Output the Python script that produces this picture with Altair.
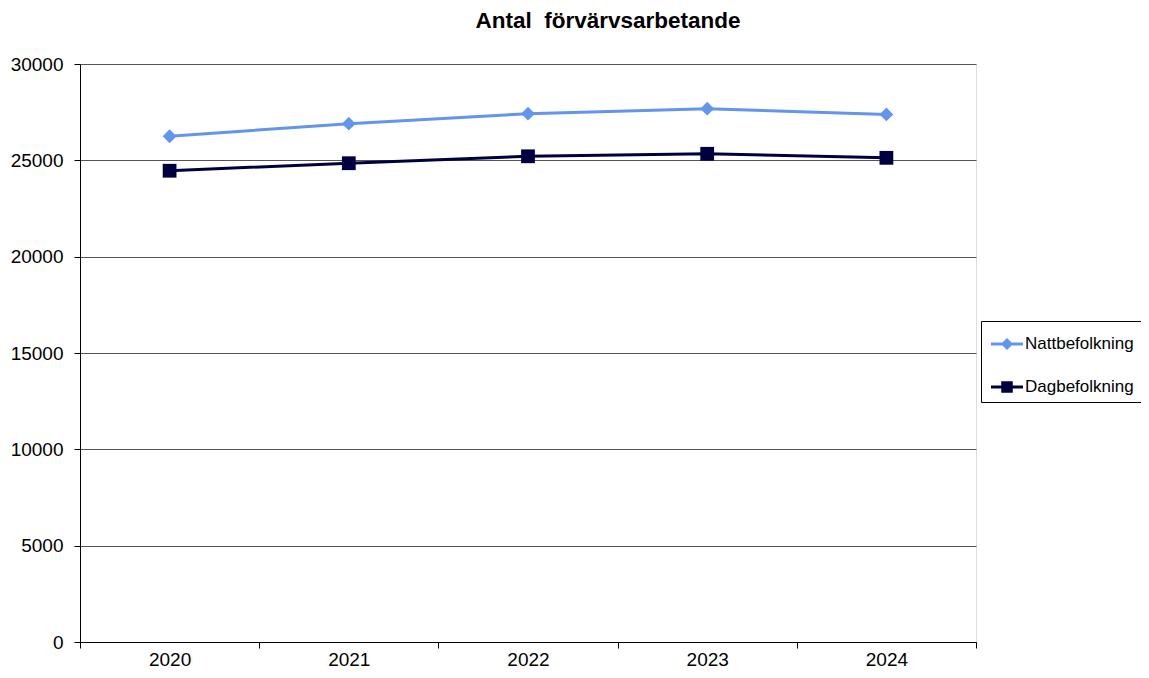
import altair as alt
import pandas as pd

years = [2020, 2021, 2022, 2023, 2024]
natt = [26250, 26900, 27420, 27680, 27380]
dag = [24460, 24850, 25210, 25340, 25130]
series_names = ["Nattbefolkning", "Dagbefolkning"]
series_colors = ["#6495ED", "#000040"]
y_ticks = [0, 5000, 10000, 15000, 20000, 25000, 30000]
title_text = "Antal\u00a0 förvärvsarbetande"

rows = []
for y, v in zip(years, natt):
    rows.append({"year": str(y), "value": v, "series": series_names[0]})
for y, v in zip(years, dag):
    rows.append({"year": str(y), "value": v, "series": series_names[1]})
df = pd.DataFrame(rows)

FONT = "Liberation Sans"

# legend glyphs: short line with marker in the middle (all filled sub-paths)
legend_paths = [
    "M-1,-0.09L1,-0.09L1,0.09L-1,0.09Z M-0.38,0L0,-0.38L0.38,0L0,0.38Z",
    "M-1,-0.09L1,-0.09L1,0.09L-1,0.09Z M-0.36,-0.36L0.36,-0.36L0.36,0.36L-0.36,0.36Z",
]

x_enc = alt.X(
    "year:O",
    scale=alt.Scale(type="band", paddingInner=0, paddingOuter=0),
    axis=alt.Axis(
        title=None,
        labelAngle=0,
        tickBand="extent",
        tickSize=6,
        tickColor="black",
        domainColor="black",
        labelFont=FONT,
        labelFontSize=19,
        labelColor="black",
        labelPadding=2,
        grid=False,
    ),
)
y_enc = alt.Y(
    "value:Q",
    scale=alt.Scale(domain=[0, 30000], nice=False),
    axis=alt.Axis(
        title=None,
        values=y_ticks,
        format="d",
        tickSize=6,
        tickColor="black",
        domainColor="black",
        gridColor="#555555",
        gridWidth=1,
        labelFont=FONT,
        labelFontSize=19,
        labelColor="black",
        labelPadding=11,
    ),
)

base = alt.Chart(df).encode(x=x_enc, y=y_enc)

layers = []
for name, col, shp in zip(series_names, series_colors, ["diamond", "square"]):
    sub = base.transform_filter(alt.datum.series == name)
    layers.append(sub.mark_line(strokeWidth=3, color=col))
    layers.append(
        sub.mark_point(filled=True, opacity=1, size=190, shape=shp, color=col)
    )

legend_opts = dict(
    title=None,
    orient="none",
    legendX=901,
    legendY=257,
    direction="vertical",
    strokeColor="black",
    fillColor="white",
    padding=7,
    symbolSize=1024,
    symbolStrokeWidth=0,
    symbolOffset=3,
    symbolOpacity=1,
    labelOffset=2,
    rowPadding=19,
    labelFont=FONT,
    labelFontSize=17,
    labelColor="black",
)

legend_layer = base.mark_point(filled=True, opacity=0).encode(
    color=alt.Color(
        "series:N",
        scale=alt.Scale(domain=series_names, range=series_colors),
        legend=alt.Legend(**legend_opts),
    ),
    shape=alt.Shape(
        "series:N",
        scale=alt.Scale(domain=series_names, range=legend_paths),
        legend=alt.Legend(**legend_opts),
    ),
)
layers.append(legend_layer)

chart = (
    alt.layer(*layers)
    .properties(
        width=896,
        height=578,
        title=alt.TitleParams(
            text=title_text,
            font=FONT,
            fontSize=22.5,
            fontWeight="bold",
            color="black",
            anchor="middle",
            dx=80,
            baseline="alphabetic",
            offset=5,
        ),
        autosize=alt.AutoSizeParams(type="none"),
        padding={"left": 72, "top": 56, "right": 165, "bottom": 28},
    )
    .configure_view(stroke="#888888", strokeWidth=1.5)
    .configure(background="white")
)

chart.save("out.html", embed_options={"renderer": "svg", "actions": False})
